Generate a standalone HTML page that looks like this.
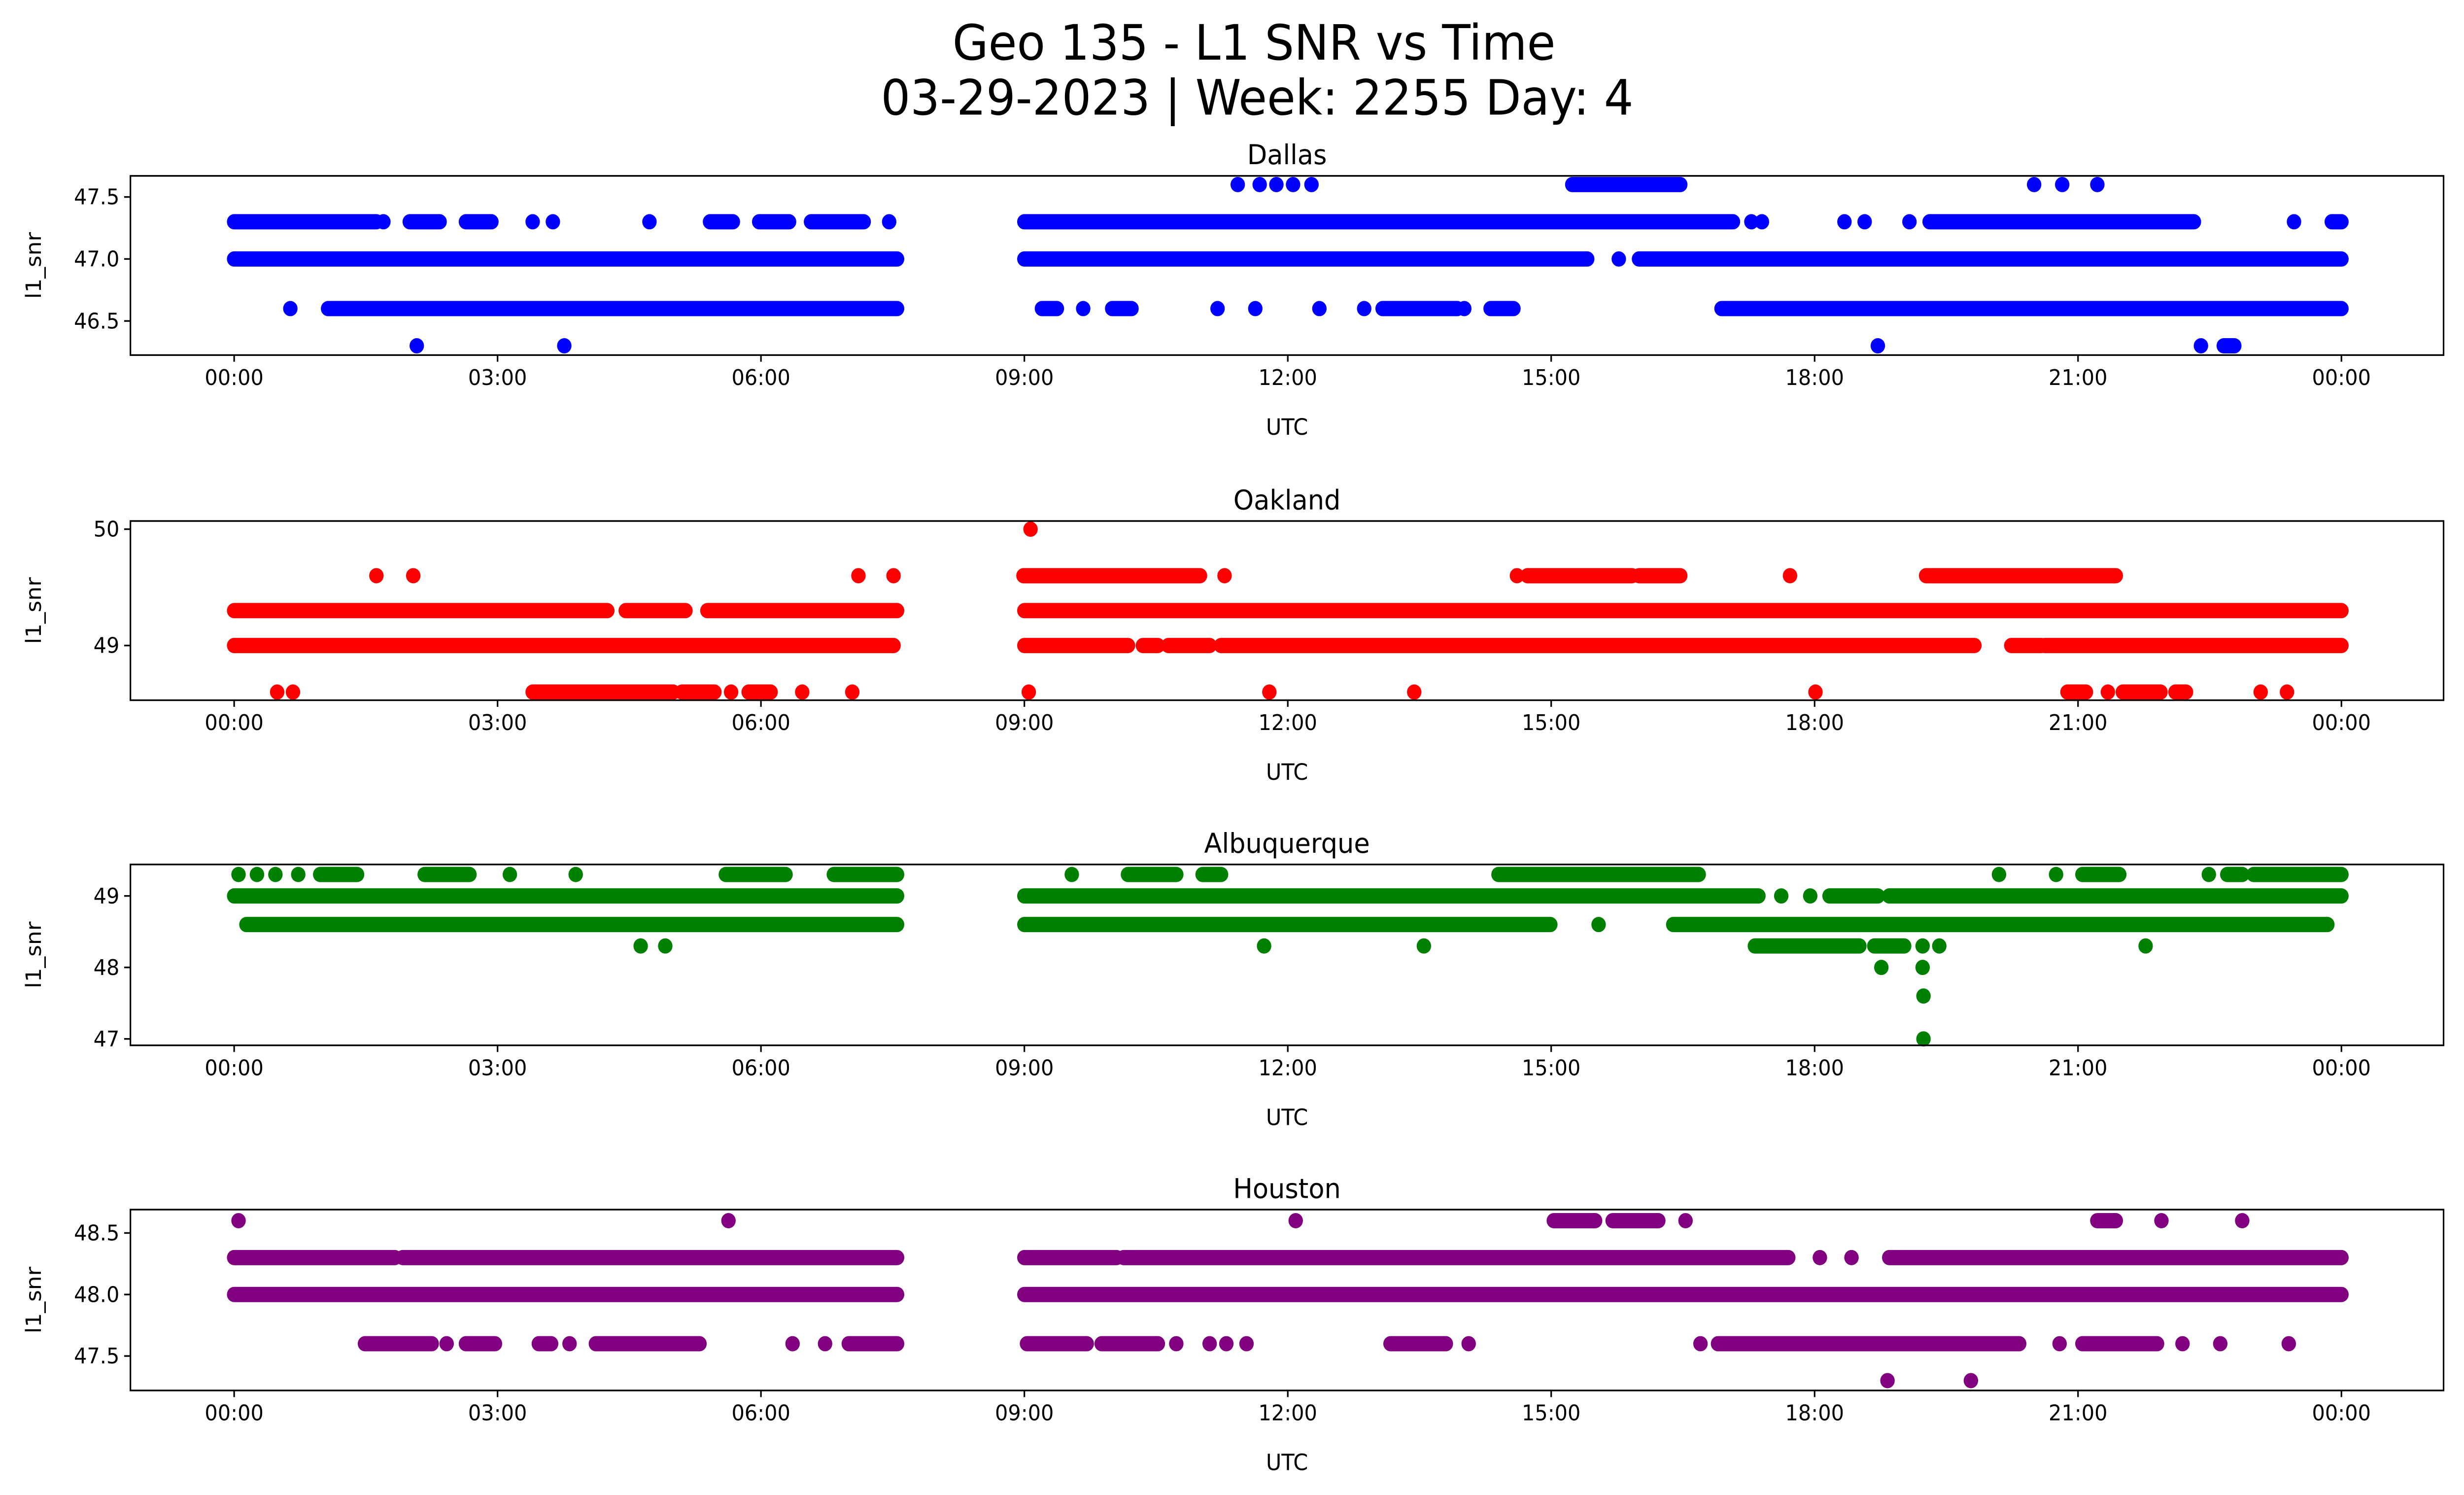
<!DOCTYPE html>
<html><head><meta charset="utf-8"><style>html,body{margin:0;padding:0;background:#fff;width:100vw;height:100vh;overflow:hidden}svg{display:block;position:fixed;left:0;top:0;width:100vw;height:100vh}text{font-family:"DejaVu Sans","Liberation Sans",sans-serif;fill:#000}</style></head>
<body>
<svg id="chart" xmlns="http://www.w3.org/2000/svg" viewBox="0 0 1568 901" preserveAspectRatio="none">
<rect width="1568" height="901" fill="#fff"/>
<text x="798" y="36" font-size="29.5" text-anchor="middle">Geo 135 - L1 SNR vs Time</text>
<text x="800" y="69" font-size="29.5" text-anchor="middle">03-29-2023 | Week: 2255 Day: 4</text>
<g id="panels"></g>
</svg>
<script>
const xTickHours = [0,3,6,9,12,15,18,21,24];
const xTickLabels = ["00:00","03:00","06:00","09:00","12:00","15:00","18:00","21:00","00:00"];

const dallasLevels = [47.6, 47.3, 47.0, 46.6, 46.3];
const dallasRuns = [
 [[11.43],[11.68],[11.87],[12.06],[12.27],[15.24,16.47],[20.5],[20.82],[21.22]],
 [[0,1.62],[1.7],[2.0,2.34],[2.64,2.93],[3.4],[3.63],[4.73],[5.42,5.68],[5.98,6.32],[6.57,7.17],[7.46],[9.0,17.07],[17.28],[17.4],[18.34],[18.57],[19.08],[19.31,22.32],[23.46],[23.89,24]],
 [[0,7.55],[9.0,15.41],[15.77],[16.0,24.0]],
 [[0.64],[1.07,7.55],[9.2,9.37],[9.67],[10.0,10.22],[11.2],[11.63],[12.36],[12.87],[13.08,13.93],[14.01],[14.31,14.57],[16.94,24.0]],
 [[2.08],[3.76],[18.72],[22.4],[22.66,22.78]]
];
const oaklandLevels = [50.0, 49.6, 49.3, 49.0, 48.6];
const oaklandRuns = [
 [[9.07]],
 [[1.62],[2.04],[7.11],[7.51],[8.99,11.0],[11.28],[14.61],[14.73,15.92],[16.0,16.47],[17.72],[19.27,21.43]],
 [[0,4.25],[4.46,5.14],[5.39,7.55],[9.0,24.0]],
 [[0,7.51],[9.0,10.18],[10.35,10.52],[10.64,11.11],[11.24,19.82],[20.24,20.58],[20.62,24.0]],
 [[0.49],[0.67],[3.4,5.0],[5.1,5.47],[5.66],[5.86,6.11],[6.47],[7.04],[9.05],[11.79],[13.44],[18.01],[20.88,21.09],[21.34],[21.51,21.94],[22.11,22.23],[23.08],[23.38]]
];
const albuqLevels = [49.3, 49.0, 48.6, 48.3, 48.0, 47.6, 47.0];
const albuqRuns = [
 [[0.05],[0.26],[0.47],[0.73],[0.98,1.4],[2.17,2.68],[3.14],[3.89],[5.6,6.28],[6.83,7.55],[9.54],[10.18,10.73],[11.03,11.24],[14.4,16.68],[20.1],[20.75],[21.05,21.47],[22.49],[22.7,22.87],[23.0,24.0]],
 [[0,7.55],[9.0,17.36],[17.62],[17.95],[18.17,18.72],[18.85,24.0]],
 [[0.14,7.55],[9.0,14.99],[15.54],[16.39,23.84]],
 [[4.63],[4.91],[11.73],[13.55],[17.32,18.51],[18.68,19.02],[19.23],[19.42],[21.77]],
 [[18.76],[19.23]],
 [[19.24]],
 [[19.24]]
];
const houstonLevels = [48.6, 48.3, 48.0, 47.6, 47.3];
const houstonRuns = [
 [[0.05],[5.63],[12.09],[15.03,15.5],[15.7,16.22],[16.53],[21.22,21.43],[21.95],[22.87]],
 [[0,1.83],[1.92,7.55],[9.0,10.05],[10.13,17.7],[18.06],[18.42],[18.85,24.0]],
 [[0,7.55],[9.0,24.0]],
 [[1.49,2.25],[2.42],[2.64,2.97],[3.47,3.61],[3.82],[4.12,5.3],[6.36],[6.73],[7.0,7.55],[9.03,9.71],[9.88,10.52],[10.73],[11.11],[11.3],[11.53],[13.17,13.8],[14.06],[16.7],[16.9,20.33],[20.79],[21.05,21.9],[22.19],[22.62],[23.4]],
 [[18.83],[19.78]]
];

const NS = "http://www.w3.org/2000/svg";
const AX_L = 83, AX_R = 1555, X0 = 149, PX_PER_H = 55.875, R = 4.6;
function xs(h){ return X0 + h * PX_PER_H; }
function mk(tag, attrs, parent){
  const e = document.createElementNS(NS, tag);
  for (const k in attrs) e.setAttribute(k, attrs[k]);
  parent.appendChild(e);
  return e;
}
const panels = [
 {title:"Dallas", key:"dallas", color:"#0000ff", top:106, bottom:214, ymin:46.225, ymax:47.67, yt:[46.5,47.0,47.5], ytl:["46.5","47.0","47.5"], levels:dallasLevels, runs:dallasRuns},
 {title:"Oakland", key:"oakland", color:"#ff0000", top:314, bottom:422, ymin:48.53, ymax:50.07, yt:[49,50], ytl:["49","50"], levels:oaklandLevels, runs:oaklandRuns},
 {title:"Albuquerque", key:"albuquerque", color:"#008000", top:521, bottom:630, ymin:46.91, ymax:49.44, yt:[47,48,49], ytl:["47","48","49"], levels:albuqLevels, runs:albuqRuns},
 {title:"Houston", key:"houston", color:"#800080", top:729, bottom:838, ymin:47.22, ymax:48.69, yt:[47.5,48.0,48.5], ytl:["47.5","48.0","48.5"], levels:houstonLevels, runs:houstonRuns}
];
const root = document.getElementById("panels");
panels.forEach(p => {
  const g = mk("g", {}, root);
  
  
  const ys = v => p.bottom - (v - p.ymin) / (p.ymax - p.ymin) * (p.bottom - p.top);
  const t = mk("text", {x:(AX_L+AX_R)/2, y:p.top-7, "font-size":16.5, "text-anchor":"middle"}, g);
  t.textContent = p.title;
  
  
  const marks = mk("g", {fill:p.color, stroke:p.color}, g);
  
  
  p.levels.forEach((lv, i) => {
    const y = ys(lv);
    p.runs[i].forEach(run => {
      let el;
      if (run.length === 1) {
        el = mk("circle", {cx:xs(run[0]), cy:y, r:R, stroke:"none"}, marks);
      } else {
        el = mk("line", {x1:xs(run[0]), x2:xs(run[1]), y1:y, y2:y, "stroke-width":2*R, "stroke-linecap":"round"}, marks);
      }
      
      
    });
  });
  const frame = mk("rect", {x:AX_L, y:p.top, width:AX_R-AX_L, height:p.bottom-p.top, fill:"none", stroke:"#000", "stroke-width":1}, g);
  
  
  xTickHours.forEach((h, i) => {
    const x = xs(h);
    const tk = mk("line", {x1:x, x2:x, y1:p.bottom, y2:p.bottom+4, stroke:"#000", "stroke-width":1}, g);
    
    
    const tl = mk("text", {x:x, y:p.bottom+18, "font-size":13, "text-anchor":"middle"}, g);
    tl.textContent = xTickLabels[i];
    
    
  });
  p.yt.forEach((v, i) => {
    const y = ys(v);
    const tk = mk("line", {x1:AX_L-4, x2:AX_L, y1:y, y2:y, stroke:"#000", "stroke-width":1}, g);
    
    
    const tl = mk("text", {x:AX_L-7, y:y+4.5, "font-size":13, "text-anchor":"end"}, g);
    tl.textContent = p.ytl[i];
    
    
  });
  const xl = mk("text", {x:(AX_L+AX_R)/2, y:p.bottom+48, "font-size":13.5, "text-anchor":"middle"}, g);
  xl.textContent = "UTC";
  
  
  const cy = (p.top+p.bottom)/2;
  const yl = mk("text", {x:26, y:cy, "font-size":13.5, "text-anchor":"middle", transform:"rotate(-90 26 "+cy+")"}, g);
  yl.textContent = "l1_snr";
  
  
});
</script>
</body></html>
